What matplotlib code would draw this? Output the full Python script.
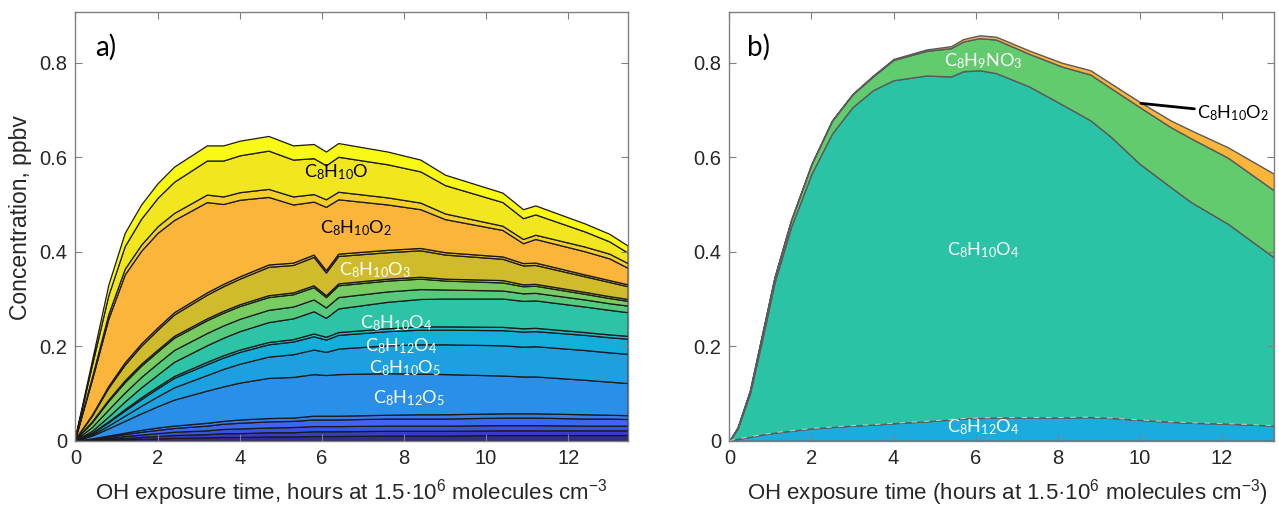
import matplotlib
matplotlib.use("Agg")
import matplotlib.pyplot as plt
import numpy as np

plt.rcParams['font.family'] = ['Liberation Sans', 'DejaVu Sans']

# ---- panel a: stacked species, OH exposure time (h) ----
t_a = [0, 0.4, 0.8, 1.2, 1.6, 2.0, 2.4, 3.2, 3.6, 4.0, 4.7, 5.3,
       5.8, 6.1, 6.4, 7.6, 8.4, 9.0, 10.4, 10.9, 11.2, 12.4, 13.0, 13.45]

# bottom to top (ppbv)
a_l1 = [0, 0.001, 0.002, 0.003, 0.004, 0.005, 0.006, 0.007, 0.008, 0.008, 0.009, 0.009,
        0.010, 0.010, 0.010, 0.011, 0.011, 0.011, 0.012, 0.012, 0.012, 0.012, 0.012, 0.012]
a_l2 = [0, 0.001, 0.002, 0.003, 0.004, 0.005, 0.006, 0.007, 0.008, 0.008, 0.009, 0.009,
        0.010, 0.010, 0.010, 0.010, 0.010, 0.010, 0.010, 0.010, 0.010, 0.010, 0.010, 0.010]
a_l3 = [0, 0.001, 0.002, 0.004, 0.005, 0.006, 0.007, 0.008, 0.009, 0.010, 0.010, 0.011,
        0.011, 0.011, 0.011, 0.011, 0.011, 0.011, 0.011, 0.011, 0.011, 0.010, 0.010, 0.010]
a_l4 = [0, 0.001, 0.003, 0.004, 0.006, 0.007, 0.008, 0.010, 0.011, 0.012, 0.013, 0.013,
        0.014, 0.014, 0.014, 0.015, 0.015, 0.015, 0.016, 0.016, 0.016, 0.015, 0.015, 0.014]
a_l5 = [0, 0.001, 0.002, 0.003, 0.004, 0.005, 0.005, 0.006, 0.006, 0.007, 0.007, 0.007,
        0.008, 0.008, 0.008, 0.008, 0.009, 0.009, 0.009, 0.009, 0.009, 0.009, 0.008, 0.008]
c8h12o5 = [0.0002, 0.006, 0.015, 0.025, 0.035, 0.045, 0.055, 0.068, 0.073, 0.078, 0.085, 0.086,
           0.088, 0.086, 0.088, 0.088, 0.086, 0.085, 0.080, 0.078, 0.078, 0.073, 0.070, 0.068]
c8h10o5 = [0.0002, 0.002, 0.006, 0.011, 0.016, 0.021, 0.026, 0.033, 0.037, 0.040, 0.045, 0.048,
           0.052, 0.049, 0.054, 0.059, 0.062, 0.063, 0.064, 0.063, 0.064, 0.063, 0.062, 0.062]
c8h12o4 = [0.0003, 0.003, 0.007, 0.011, 0.014, 0.017, 0.020, 0.023, 0.024, 0.025, 0.026, 0.027,
           0.028, 0.026, 0.029, 0.030, 0.031, 0.031, 0.032, 0.032, 0.032, 0.032, 0.032, 0.032]
a_l9 = [0, 0.001, 0.002, 0.003, 0.004, 0.004, 0.004, 0.005, 0.005, 0.005, 0.005, 0.005,
        0.006, 0.006, 0.006, 0.006, 0.007, 0.007, 0.007, 0.007, 0.007, 0.006, 0.006, 0.006]
c8h10o4 = [0.0005, 0.004, 0.010, 0.016, 0.021, 0.025, 0.030, 0.035, 0.037, 0.039, 0.042, 0.044,
           0.047, 0.040, 0.050, 0.056, 0.058, 0.059, 0.060, 0.058, 0.058, 0.054, 0.052, 0.050]
a_l11 = [0.001, 0.008, 0.015, 0.019, 0.022, 0.024, 0.025, 0.026, 0.026, 0.026, 0.026, 0.025,
         0.025, 0.022, 0.024, 0.022, 0.021, 0.019, 0.017, 0.016, 0.016, 0.015, 0.014, 0.014]
a_l12 = [0.001, 0.010, 0.018, 0.022, 0.024, 0.025, 0.026, 0.027, 0.027, 0.027, 0.027, 0.026,
         0.026, 0.022, 0.025, 0.023, 0.022, 0.019, 0.017, 0.015, 0.015, 0.012, 0.011, 0.010]
a_l13 = [0.0003, 0.002, 0.003, 0.004, 0.004, 0.004, 0.004, 0.004, 0.004, 0.004, 0.004, 0.004,
         0.004, 0.004, 0.004, 0.004, 0.004, 0.004, 0.005, 0.004, 0.004, 0.004, 0.004, 0.004]
c8h10o3 = [0.001, 0.012, 0.025, 0.033, 0.038, 0.042, 0.045, 0.050, 0.052, 0.054, 0.060, 0.058,
           0.060, 0.048, 0.058, 0.056, 0.056, 0.051, 0.045, 0.040, 0.040, 0.033, 0.030, 0.027]
a_l15 = [0.0005, 0.002, 0.004, 0.005, 0.005, 0.005, 0.005, 0.005, 0.005, 0.005, 0.005, 0.005,
         0.005, 0.005, 0.005, 0.005, 0.005, 0.005, 0.005, 0.005, 0.005, 0.004, 0.004, 0.004]
c8h10o2 = [0.001, 0.074, 0.142, 0.186, 0.196, 0.200, 0.195, 0.191, 0.169, 0.162, 0.143, 0.123,
           0.112, 0.134, 0.115, 0.096, 0.082, 0.070, 0.056, 0.042, 0.050, 0.049, 0.046, 0.035]
a_l17 = [0.001, 0.006, 0.010, 0.012, 0.013, 0.014, 0.015, 0.016, 0.016, 0.016, 0.017, 0.017,
         0.016, 0.016, 0.016, 0.015, 0.014, 0.012, 0.009, 0.009, 0.009, 0.010, 0.010, 0.010]
c8h10o = [0.003, 0.025, 0.040, 0.048, 0.055, 0.060, 0.066, 0.072, 0.076, 0.078, 0.081, 0.078,
          0.076, 0.072, 0.074, 0.070, 0.066, 0.060, 0.050, 0.044, 0.043, 0.032, 0.026, 0.022]
a_l19 = [0.002, 0.010, 0.022, 0.028, 0.030, 0.031, 0.032, 0.032, 0.032, 0.031, 0.031, 0.030,
         0.030, 0.029, 0.029, 0.027, 0.025, 0.022, 0.020, 0.019, 0.019, 0.017, 0.016, 0.015]

layers_a = [a_l1, a_l2, a_l3, a_l4, a_l5, c8h12o5, c8h10o5, c8h12o4, a_l9, c8h10o4,
            a_l11, a_l12, a_l13, c8h10o3, a_l15, c8h10o2, a_l17, c8h10o, a_l19]
colors_a = ['#2e2d96', '#383cc4', '#3b51e2', '#3d66f2', '#337df0', '#2a8fe8', '#1e9fdf',
            '#14aedb', '#1fbac0', '#2cc3a6', '#55c97c', '#78cc60', '#a6c446', '#d0bb2c',
            '#e2b82e', '#fbb53b', '#f6d02a', '#f2e71e', '#f8f914']

# ---- panel b ----
t_b = [0, 0.2, 0.5, 0.8, 1.1, 1.5, 2.0, 2.5, 3.0, 3.5, 4.0, 4.8, 5.4,
       5.7, 6.1, 6.5, 7.3, 8.1, 8.8, 9.3, 10.0, 10.75, 11.25, 12.15, 13.27]
b_c8h12o4 = [0, 0.004, 0.008, 0.013, 0.017, 0.021, 0.026, 0.029, 0.032, 0.034, 0.037, 0.041, 0.045,
             0.047, 0.048, 0.049, 0.049, 0.049, 0.050, 0.048, 0.044, 0.040, 0.038, 0.036, 0.032]
b_c8h10o4 = [0, 0.022, 0.092, 0.202, 0.318, 0.431, 0.539, 0.621, 0.674, 0.708, 0.726, 0.732, 0.726,
             0.735, 0.736, 0.729, 0.701, 0.663, 0.628, 0.595, 0.542, 0.497, 0.467, 0.423, 0.356]
b_c8h9no3 = [0, 0.002, 0.006, 0.011, 0.011, 0.014, 0.020, 0.027, 0.027, 0.029, 0.043, 0.052, 0.060,
             0.063, 0.068, 0.071, 0.069, 0.080, 0.097, 0.103, 0.120, 0.127, 0.135, 0.140, 0.142]
b_c8h10o2 = [0, 0, 0, 0, 0, 0, 0.001, 0.001, 0.001, 0.002, 0.002, 0.003, 0.004,
             0.005, 0.006, 0.006, 0.007, 0.008, 0.009, 0.010, 0.011, 0.014, 0.017, 0.022, 0.035]
colors_b = ['#19acdc', '#2bc3a5', '#62cb6e', '#fbb53a']

yticks = [0, 0.2, 0.4, 0.6, 0.8]
ytick_labels = ['0', '0.2', '0.4', '0.6', '0.8']
xticks = [0, 2, 4, 6, 8, 10, 12]
formula_font = dict(family='Lato', fontsize=13)


def style_axes(ax, xmax):
    ax.set_xlim(0, xmax)
    ax.set_ylim(0, 0.908)
    ax.set_xticks(xticks)
    ax.set_yticks(yticks)
    ax.set_yticklabels(ytick_labels)
    ax.tick_params(direction='in', top=True, right=True, length=5, width=0.8,
                   labelsize=14.5, colors='#808080', labelcolor='#262626', pad=6)
    for sp in ax.spines.values():
        sp.set_color('#808080')
        sp.set_linewidth(1.0)


fig = plt.figure(figsize=(12.79, 5.13), dpi=100)
ax1 = fig.add_axes([0.0590, 0.1409, 0.4318, 0.8363])
ax2 = fig.add_axes([0.5703, 0.1409, 0.4257, 0.8363])

# panel a
ax1.stackplot(t_a, *layers_a, colors=colors_a, edgecolor='#1a1a1a', linewidth=0.9)
style_axes(ax1, 13.45)
ax1.set_ylabel('Concentration, ppbv', fontsize=16.5, color='#262626')
ax1.yaxis.set_label_coords(-0.079, 0.52)
ax1.set_xlabel(r'OH exposure time, hours at 1.5·10$\mathregular{^{6}}$ molecules cm$\mathregular{^{-3}}$',
               fontsize=16, color='#262626')
ax1.xaxis.set_label_coords(0.5, -0.085)
ax1.text(0.48, 0.833, 'a)', family='Lato', fontsize=20, va='center', ha='left')

ax1.text(6.34, 0.569, r'C$\mathregular{_8}$H$\mathregular{_{10}}$O', color='black',
         ha='center', va='center', **formula_font)
ax1.text(6.83, 0.450, r'C$\mathregular{_8}$H$\mathregular{_{10}}$O$\mathregular{_2}$', color='black',
         ha='center', va='center', **formula_font)
ax1.text(7.29, 0.361, r'C$\mathregular{_8}$H$\mathregular{_{10}}$O$\mathregular{_3}$', color='white',
         ha='center', va='center', **formula_font)
ax1.text(7.80, 0.249, r'C$\mathregular{_8}$H$\mathregular{_{10}}$O$\mathregular{_4}$', color='white',
         ha='center', va='center', **formula_font)
ax1.text(7.93, 0.200, r'C$\mathregular{_8}$H$\mathregular{_{12}}$O$\mathregular{_4}$', color='white',
         ha='center', va='center', **formula_font)
ax1.text(8.02, 0.154, r'C$\mathregular{_8}$H$\mathregular{_{10}}$O$\mathregular{_5}$', color='white',
         ha='center', va='center', **formula_font)
ax1.text(8.12, 0.090, r'C$\mathregular{_8}$H$\mathregular{_{12}}$O$\mathregular{_5}$', color='white',
         ha='center', va='center', **formula_font)

# panel b
ax2.stackplot(t_b, b_c8h12o4, b_c8h10o4, b_c8h9no3, b_c8h10o2, colors=colors_b,
              edgecolor='#5a5a5a', linewidth=1.0)
ax2.plot(t_b, b_c8h12o4, color='white', lw=0.8, ls=(0, (5, 6)), alpha=0.6)
style_axes(ax2, 13.27)
ax2.set_xlabel(r'OH exposure time (hours at 1.5·10$\mathregular{^{6}}$ molecules cm$\mathregular{^{-3}}$)',
               fontsize=16, color='#262626')
ax2.xaxis.set_label_coords(0.51, -0.085)
ax2.text(0.43, 0.833, 'b)', family='Lato', fontsize=20, va='center', ha='left')

ax2.text(6.19, 0.804, r'C$\mathregular{_8}$H$\mathregular{_9}$NO$\mathregular{_3}$', color='white',
         ha='center', va='center', **formula_font)
ax2.text(6.19, 0.403, r'C$\mathregular{_8}$H$\mathregular{_{10}}$O$\mathregular{_4}$', color='white',
         ha='center', va='center', **formula_font)
ax2.text(6.19, 0.029, r'C$\mathregular{_8}$H$\mathregular{_{12}}$O$\mathregular{_4}$', color='white',
         ha='center', va='center', **formula_font)
ax2.annotate(r'C$\mathregular{_8}$H$\mathregular{_{10}}$O$\mathregular{_2}$', xy=(10.03, 0.714),
             xytext=(11.4, 0.694), ha='left', va='center', color='black',
             arrowprops=dict(arrowstyle='-', color='black', lw=2, shrinkA=0, shrinkB=0),
             **formula_font)

fig.savefig('out.png', dpi=100, facecolor='white')
